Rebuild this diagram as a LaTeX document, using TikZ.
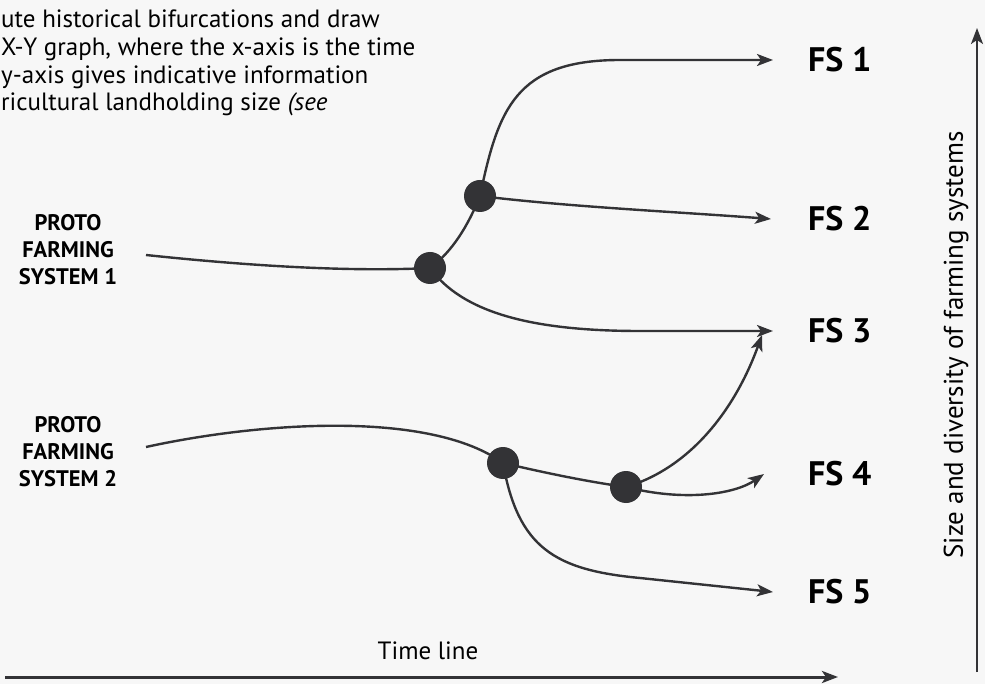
\documentclass[tikz,border=0pt]{standalone}
\usepackage{fontspec}
\setmainfont{PT Sans}
\usetikzlibrary{arrows.meta,positioning}
\definecolor{ink}{HTML}{333336}
\definecolor{paper}{HTML}{F7F7F7}
\tikzset{
  branch/.style={draw=ink,line width=2.4pt},
  evolve/.style={branch,-{Stealth[length=16pt,width=12pt,inset=4pt]}},
  knot/.style={circle,fill=ink,minimum size=32pt,inner sep=0pt},
  fs/.style={font=\fontsize{34}{36}\selectfont\bfseries,inner sep=0pt,anchor=west},
  proto/.style={font=\fontsize{22.5}{27}\selectfont\bfseries,align=center,inner sep=0pt}
}

\begin{document}
\begin{tikzpicture}[x=1pt,y=-1pt]
  \fill[paper] (0,0) rectangle (985,684);
  \useasboundingbox (0,0) rectangle (985,684);
  % text at the top
  \node[anchor=north west,inner sep=0pt,align=left,
        font=\fontsize{25}{27.7}\selectfont] (txt) at (1,10)
    {ute historical bifurcations and draw\\X-Y graph, where the x-axis is the time\\
     y-axis gives indicative information\\ricultural landholding size \textit{(see}};
  % starting systems
  \node[proto] (p1) at (68,250) {PROTO\\FARMING\\SYSTEM 1};
  \node[proto] (p2) at (68,452) {PROTO\\FARMING\\SYSTEM 2};
  \coordinate (s1) at (146,255);
  \coordinate (s2) at (146,447);
  % bifurcations
  \coordinate (v1) at (430,268);
  \coordinate (v2) at (480,196);
  \coordinate (v3) at (503,463);
  \coordinate (v4) at (626,487);
  % arrow ends
  \coordinate (e1) at (773,60);
  \coordinate (e2) at (771,219);
  \coordinate (e3) at (773,331);
  \coordinate (f1) at (762,335);
  \coordinate (e4) at (764,474);
  \coordinate (e5) at (773,592);
  \node[fs,right=35pt of e1] (o1) {FS 1};
  \node[fs,right=37pt of e2] (o2) {FS 2};
  \node[fs,right=35pt of e3] (o3) {FS 3};
  \node[fs,right=44pt of e4] (o4) {FS 4};
  \node[fs,right=35pt of e5] (o5) {FS 5};

  \draw[branch] (s1) .. controls (250,266) and (350,272) .. (v1);
  \draw[branch] (v1) .. controls (452,252) and (468,226) .. (v2);
  \draw[evolve] (v2) .. controls (498,110) and (515,60) .. (620,60) -- (e1);
  \draw[evolve] (v2) .. controls (570,207) and (680,212) .. (e2);
  \draw[evolve] (v1) .. controls (462,312) and (530,331) .. (640,331) -- (e3);
  \draw[branch] (s2) .. controls (260,422) and (430,410) .. (v3);
  \draw[branch] (v3) .. controls (550,474) and (590,482) .. (v4);
  \draw[evolve] (v3) .. controls (518,548) and (555,570) .. (640,578) -- (e5);
  \draw[evolve] (v4) .. controls (690,468) and (735,410) .. (f1);
  \draw[evolve] (v4) .. controls (685,502) and (735,494) .. (e4);
  \foreach \k in {v1,v2,v3,v4}
    \node[knot] at (\k) {};

  % axes
  \coordinate (t0) at (5,677);
  \coordinate (t1) at (838,677);
  \draw[evolve,line width=3pt] (t0) -- (t1);
  \node[font=\fontsize{25}{28}\selectfont] (tl) at (428,651) {Time line};
  \coordinate (a0) at (977,672);
  \coordinate (a1) at (977,28);
  \draw[evolve,line width=2pt] (a0) -- (a1);
  \node[rotate=90,font=\fontsize{27}{30}\selectfont] (sz) at (956,345)
    {Size and diversity of farming systems};
\end{tikzpicture}
\end{document}
